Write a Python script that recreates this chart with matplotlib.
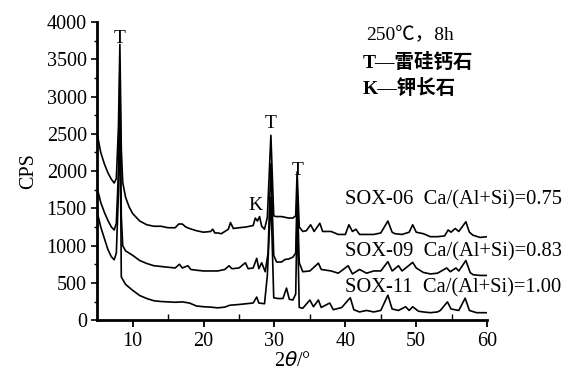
import numpy as np
import matplotlib
matplotlib.use('Agg')
import matplotlib.pyplot as plt
from matplotlib.ticker import MultipleLocator

plt.rcParams['font.family'] = ['Liberation Serif', 'Noto Sans CJK SC']

# XRD patterns, 2theta (deg) vs CPS, curves already stacked
x06 = [5.0, 5.5, 6.0, 6.5, 7.0, 7.4, 7.7, 8.0, 8.2, 8.4, 8.6, 9.0, 9.5, 10, 11, 12, 13, 14, 15, 16,
       16.5, 17, 17.5, 18, 19, 20, 21, 21.3, 21.6, 22, 22.5, 23, 23.5, 23.8, 24.2, 25, 26, 27, 27.3,
       27.6, 27.9, 28.2, 28.6, 29.0, 29.5, 29.9, 30.2, 31, 32, 32.6, 33.0, 33.2, 33.5, 34, 34.5, 35.1,
       35.6, 36.4, 36.8, 38, 39, 40, 40.5, 41, 41.5, 42, 43, 44, 45, 46, 46.6, 47, 48, 49, 49.5, 50,
       51, 52, 53, 54, 54.5, 54.9, 55.5, 56, 57, 57.5, 58, 59, 60]
y06 = [2500, 2250, 2100, 1980, 1890, 1840, 1900, 2600, 3700, 2300, 1850, 1650, 1520, 1430, 1330, 1280,
       1260, 1260, 1240, 1240, 1290, 1290, 1250, 1230, 1200, 1180, 1190, 1220, 1170, 1170, 1160, 1190,
       1220, 1310, 1230, 1240, 1250, 1270, 1370, 1330, 1390, 1260, 1220, 1380, 2480, 1400, 1390, 1390,
       1370, 1370, 1400, 1990, 1250, 1190, 1200, 1280, 1190, 1300, 1190, 1190, 1150, 1150, 1280, 1190,
       1220, 1150, 1150, 1150, 1170, 1330, 1180, 1160, 1150, 1180, 1280, 1180, 1160, 1120, 1120, 1130,
       1210, 1180, 1230, 1190, 1320, 1180, 1140, 1110, 1120]

x09 = [5.0, 5.5, 6.0, 6.5, 7.0, 7.4, 7.7, 8.0, 8.2, 8.4, 8.6, 9.0, 10, 11, 12, 13, 14, 15, 16, 16.6,
       17, 17.8, 18.2, 19, 20, 21, 22, 23, 23.6, 24, 25, 25.9, 26.3, 27, 27.5, 27.8, 28.2, 28.7, 29.1,
       29.5, 29.9, 30.3, 31.0, 31.5, 32.0, 32.6, 33.0, 33.2, 33.5, 34, 35, 36.2, 36.6, 38, 39, 40.4,
       41, 42, 43, 44, 45, 46, 46.6, 47.5, 48, 49.5, 50, 51, 52, 53, 54.3, 54.8, 55.6, 56, 57, 57.6,
       58, 59, 60]
y09 = [1770, 1580, 1450, 1340, 1250, 1210, 1300, 2000, 3350, 1400, 1000, 930, 870, 800, 760, 730,
       720, 710, 700, 750, 700, 730, 680, 670, 660, 660, 660, 680, 730, 690, 700, 770, 690, 700, 830,
       690, 770, 650, 900, 2100, 870, 780, 780, 815, 820, 845, 900, 1750, 770, 650, 660, 765, 680, 660,
       630, 730, 620, 680, 630, 660, 660, 785, 660, 730, 660, 775, 700, 640, 620, 630, 700, 650, 700,
       660, 800, 640, 610, 600, 600]

x11 = [5.0, 5.5, 6.0, 6.5, 7.0, 7.4, 7.7, 8.0, 8.2, 8.4, 9.0, 10, 11, 12, 13, 14, 15, 16, 17, 18, 19,
       20, 21, 22, 23, 23.7, 25, 26, 27, 27.5, 27.8, 28.6, 29.0, 29.5, 29.9, 30.5, 31.2, 31.7, 32.1,
       32.6, 33.0, 33.2, 33.5, 34, 35.0, 35.5, 36.2, 36.6, 37.8, 38.3, 39.5, 40.4, 40.7, 41.2, 42, 43,
       44, 45, 46, 46.6, 47.5, 48.5, 49, 49.5, 50.3, 51, 52, 53, 53.4, 54.4, 54.9, 56, 56.9, 57.5,
       58.5, 60]
y11 = [1450, 1250, 1100, 950, 850, 810, 900, 1700, 3000, 580, 480, 400, 330, 290, 260, 250, 245, 240,
       245, 230, 190, 180, 175, 165, 175, 200, 210, 220, 230, 310, 230, 220, 600, 1650, 300, 290, 290,
       430, 280, 270, 350, 1500, 170, 160, 270, 180, 270, 170, 230, 140, 170, 270, 300, 140, 110, 130,
       110, 130, 335, 150, 130, 180, 130, 180, 120, 110, 100, 110, 130, 245, 150, 130, 295, 130, 100,
       100]

labels = ['SOX-06  Ca/(Al+Si)=0.75', 'SOX-09  Ca/(Al+Si)=0.83', 'SOX-11  Ca/(Al+Si)=1.00']
label_x = 40.0
label_y = [1610, 915, 430]

# phase marks: (letter, 2theta, cps)
marks = [('T', 8.2, 3660), ('T', 29.5, 2520), ('T', 33.2, 1900), ('K', 27.3, 1420)]

fig = plt.figure(figsize=(5.82, 3.74), dpi=100)
ax = fig.add_axes([0.167, 0.144, 0.670, 0.797])

for xs, ys in [(x06, y06), (x09, y09), (x11, y11)]:
    ax.plot(xs, ys, color='black', lw=1.2)

for txt, ly in zip(labels, label_y):
    ax.text(label_x, ly, txt, fontsize=14.8, va='center', ha='left', clip_on=False)

for letter, mx, my in marks:
    ax.text(mx, my, letter, fontsize=14, ha='center', va='bottom')

ax.text(0.69, 0.956, '250℃，8h', transform=ax.transAxes, fontsize=14, va='center')
ax.text(0.68, 0.866, 'T—雷硅钙石', transform=ax.transAxes, fontsize=14, va='center',
        fontweight='bold')
ax.text(0.68, 0.778, 'K—钾长石', transform=ax.transAxes, fontsize=14, va='center',
        fontweight='bold')

ax.set_xlim(5, 60)
ax.set_ylim(0, 4000)
ax.xaxis.set_major_locator(MultipleLocator(10))
ax.xaxis.set_minor_locator(MultipleLocator(5))
ax.yaxis.set_major_locator(MultipleLocator(500))
ax.yaxis.set_minor_locator(MultipleLocator(250))
ax.tick_params(axis='x', which='major', direction='out', length=5, width=1.3, labelsize=14.5)
ax.tick_params(axis='x', which='minor', direction='in', length=4, width=1.0)
ax.tick_params(axis='y', which='major', direction='out', length=4, width=1.2, labelsize=14.5)
ax.tick_params(axis='y', which='minor', direction='out', length=2, width=1.0)

for side in ['top', 'right']:
    ax.spines[side].set_visible(False)
for side in ['left', 'bottom']:
    ax.spines[side].set_linewidth(2)

ax.set_ylabel('CPS', fontsize=14.5, labelpad=6)
ax.set_xlabel(r'2$\it{\theta}$/°', fontsize=14.5, labelpad=1)

fig.savefig('out.png', dpi=100)
